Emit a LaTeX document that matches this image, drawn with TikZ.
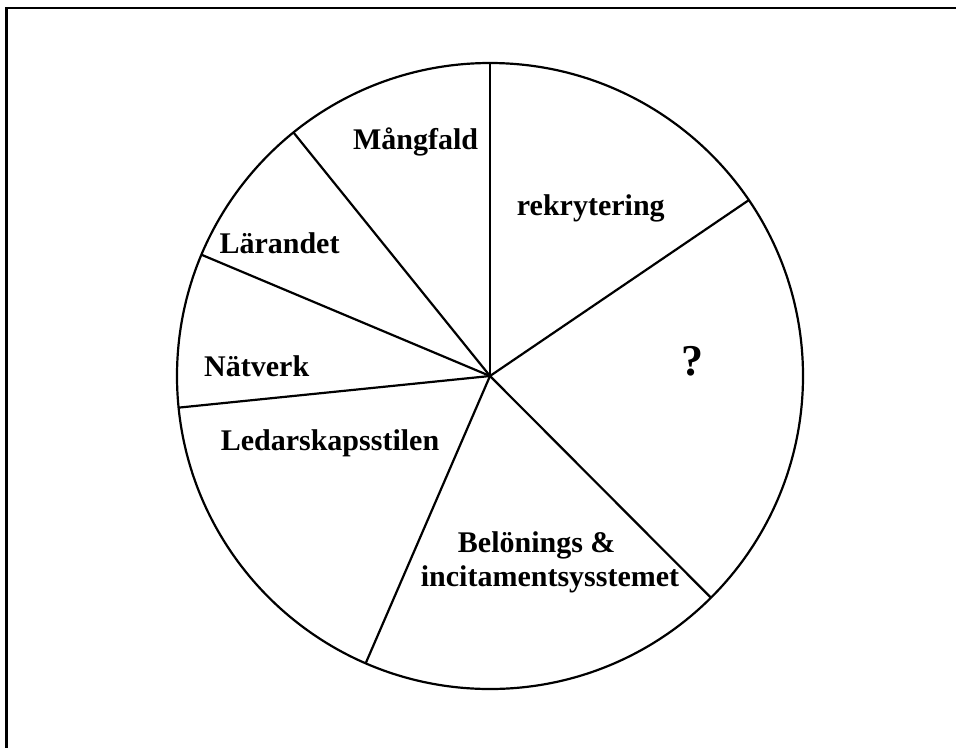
\documentclass[tikz,border=0pt]{standalone}
\usepackage{fontspec}
\setmainfont{Liberation Serif}
\begin{document}
\begin{tikzpicture}[x=1pt,y=-1pt,
  lbl/.style={font=\bfseries\fontsize{30}{34}\selectfont, anchor=base, inner sep=0pt},
  qlbl/.style={font=\bfseries\fontsize{44}{48}\selectfont, anchor=base, inner sep=0pt},
  edge/.style={line width=2.2pt, draw=black},
  frame/.style={line width=2.2pt, draw=black}]
\useasboundingbox (0,0) rectangle (956,748);
% frame (only top and left visible)
\coordinate (ftr) at (956,8);
\coordinate (ftl) at (6.5,8);
\coordinate (fbl) at (6.5,748);
\draw[frame] (ftr) -- (ftl) -- (fbl);
% pie
\coordinate (c) at (490,376);
\draw[edge] (c) circle (313);
\path (c) ++(-90:313) coordinate (p0);
\path (c) ++(-34.2:313) coordinate (p1);
\path (c) ++(45.1:313) coordinate (p2);
\path (c) ++(113.4:313) coordinate (p3);
\path (c) ++(174.2:313) coordinate (p4);
\path (c) ++(202.8:313) coordinate (p5);
\path (c) ++(231.1:313) coordinate (p6);
\foreach \p in {p0,p1,p2,p3,p4,p5,p6} \draw[edge] (c) -- (\p);
% labels
\node[lbl] (mang) at (415.6,149) {Mångfald};
\node[lbl] (rekr) at (590.8,215) {rekrytering};
\node[lbl] (lar) at (279.5,253.3) {Lärandet};
\node[lbl] (nat) at (256.7,376.5) {Nätverk};
\node[lbl] (led) at (330,450) {Ledarskapsstilen};
\node[qlbl] (q) at (692.7,375) {?};
\node[lbl] (bel) at (536.7,552.3) {Belönings \&};
\node[lbl] (inc) at (550,586.7) {incitamentsysstemet};
\end{tikzpicture}
\end{document}
